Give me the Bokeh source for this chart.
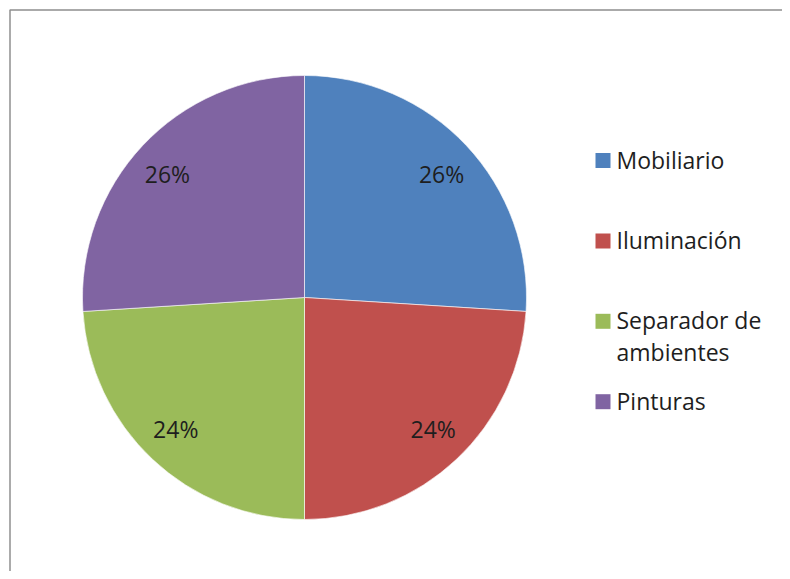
import math
import textwrap
from bokeh.plotting import figure
from bokeh.models import ColumnDataSource, Range1d
from bokeh.core.properties import value
from bokeh.embed import file_html
from bokeh.resources import INLINE

# ---- data ----
categories = ["Mobiliario", "Iluminación", "Separador de ambientes", "Pinturas"]
shares = [26, 24, 24, 26]
colors = ["#4F81BD", "#C0504D", "#9BBB59", "#8064A2"]

# ---- layout (pixels; data units == pixels) ----
W, H = 782, 571
CX, CY, R = 304, 274, 222
LABEL_RX, LABEL_RY = 0.847, 0.811
FONT = "Open Sans"
FS = "23px"
TXT = "#1e1e1e"

p = figure(width=W, height=H, output_backend="svg", toolbar_location=None,
           x_range=Range1d(0, W), y_range=Range1d(0, H), min_border=0)
p.axis.visible = False
p.grid.visible = False
p.outline_line_color = None
p.background_fill_color = "white"
p.border_fill_color = "white"

total = float(sum(shares))
starts, ends, lx, ly, pct = [], [], [], [], []
cum = 0.0
for s in shares:
    a0 = math.pi / 2 - cum / total * 2 * math.pi
    a1 = math.pi / 2 - (cum + s) / total * 2 * math.pi
    starts.append(a0)
    ends.append(a1)
    mid = (a0 + a1) / 2
    lx.append(CX + LABEL_RX * R * math.cos(mid))
    ly.append(CY + LABEL_RY * R * math.sin(mid))
    pct.append(f"{round(s / total * 100)}%")
    cum += s

src = ColumnDataSource(dict(cat=categories, start=starts, end=ends, color=colors,
                            lx=lx, ly=ly, pct=pct))
p.wedge(x=CX, y=CY, radius=R, start_angle="start", end_angle="end",
        direction="clock", fill_color="color", line_color="white",
        line_width=0.6, source=src)
p.text(x="lx", y="ly", text="pct", source=src, text_font=value(FONT),
       text_font_size=FS, text_color=TXT, text_align="center",
       text_baseline="middle")

# frame border (top and left visible)
p.line(x=[9.5, 9.5, W], y=[0, H - 9.5, H - 9.5], line_color="#8f8f8f", line_width=1.5)

# ---- legend drawn manually ----
LEG_X_SQ, LEG_X_TXT = 602.5, 616
LEG_Y0, LEG_STEP, LINE_H, SQ = 411.0, 80.4, 31.4, 15
sq_x, sq_y, sq_c, tx, ty, tt = [], [], [], [], [], []
for i, (name, c) in enumerate(zip(categories, colors)):
    cy = LEG_Y0 - i * LEG_STEP
    sq_x.append(LEG_X_SQ)
    sq_y.append(cy)
    sq_c.append(c)
    for j, line in enumerate(textwrap.wrap(name, 12)):
        tx.append(LEG_X_TXT)
        ty.append(cy + 1 - j * LINE_H)
        tt.append(line)

p.rect(x=sq_x, y=sq_y, width=SQ, height=SQ, fill_color=sq_c, line_color=None)
p.text(x=tx, y=ty, text=tt, text_font=value(FONT), text_font_size=FS,
       text_color=TXT, text_align="left", text_baseline="middle")

open("out.html", "w").write(file_html(p, INLINE))
